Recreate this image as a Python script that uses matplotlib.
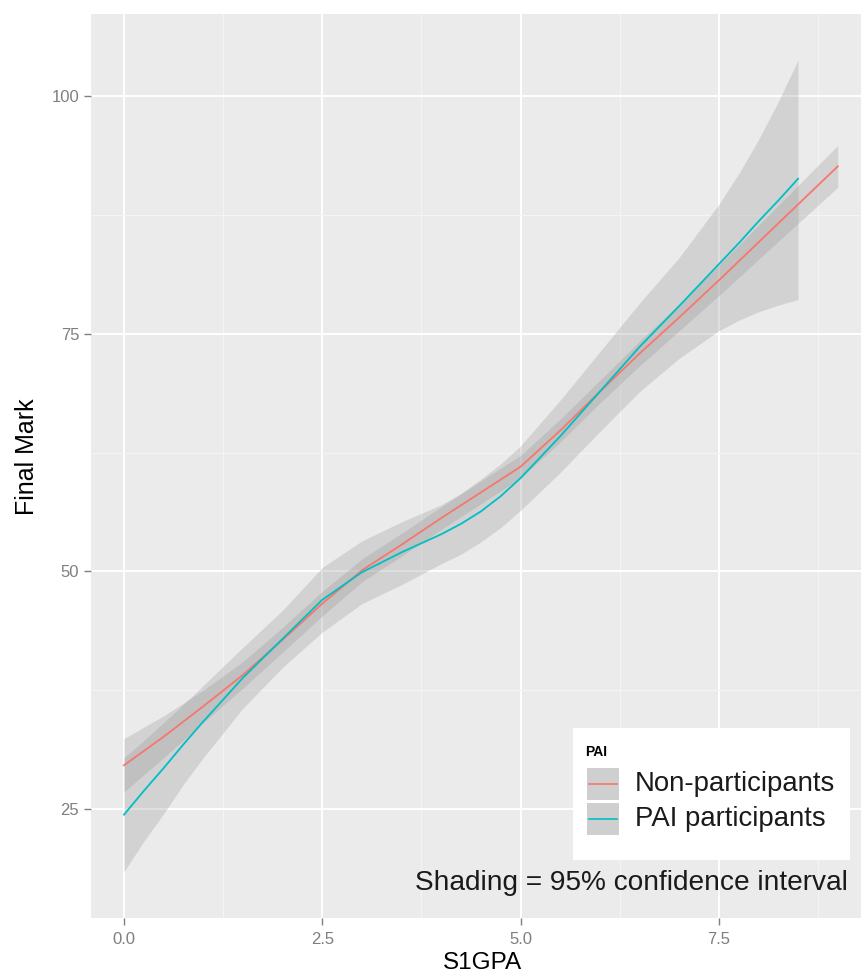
import matplotlib
matplotlib.use("Agg")
import matplotlib.pyplot as plt
from matplotlib.patches import Rectangle
from matplotlib.lines import Line2D
import numpy as np

plt.rcParams['font.family'] = ['Liberation Sans', 'DejaVu Sans']

# ---- data ----
x_non = [0.0, 0.5, 1.0, 1.5, 2.0, 2.5, 3.0, 3.5, 4.0, 4.5, 5.0, 5.5, 6.0, 6.5, 7.0, 7.5, 8.0, 8.5, 9.0]
y_non = [29.6, 32.6, 35.8, 39.1, 42.8, 46.6, 50.1, 52.8, 55.6, 58.3, 61.0, 64.8, 68.9, 72.9, 76.7, 80.6, 84.6, 88.6, 92.6]
lo_non = [26.8, 30.4, 34.1, 37.7, 41.5, 45.3, 48.9, 51.6, 54.4, 57.1, 59.8, 63.6, 67.7, 71.6, 75.3, 79.0, 82.8, 86.6, 90.4]
hi_non = [32.4, 34.8, 37.5, 40.5, 44.1, 47.9, 51.3, 54.0, 56.8, 59.5, 62.2, 66.0, 70.1, 74.2, 78.1, 82.2, 86.4, 90.6, 94.8]

x_pai = [0.0, 0.25, 0.5, 0.75, 1.0, 1.5, 2.0, 2.5, 3.0, 3.5, 4.0, 4.25, 4.5, 4.75, 5.0, 5.5, 6.0, 6.5, 7.0, 7.5, 7.75, 8.0, 8.25, 8.5]
y_pai = [24.4, 26.9, 29.3, 31.8, 34.2, 38.8, 42.9, 47.0, 49.9, 52.0, 53.9, 55.0, 56.3, 57.9, 59.8, 64.2, 68.9, 73.6, 77.9, 82.3, 84.5, 86.8, 89.0, 91.3]
lo_pai = [18.4, 21.6, 24.5, 27.6, 30.4, 35.6, 39.9, 43.6, 46.6, 48.6, 50.8, 51.8, 53.1, 54.6, 56.4, 60.4, 64.7, 68.9, 72.4, 75.3, 76.4, 77.3, 78.0, 78.6]
hi_pai = [30.4, 32.2, 34.1, 36.0, 38.0, 42.0, 45.9, 50.4, 53.2, 55.2, 57.0, 58.2, 59.7, 61.3, 63.2, 68.0, 73.1, 78.2, 83.0, 88.6, 91.8, 95.4, 99.4, 103.8]

groups = ["Non-participants", "PAI participants"]
colors = ["#F8766D", "#00BFC4"]
legend_title = "PAI"
x_ticks = [0.0, 2.5, 5.0, 7.5]
x_ticklabels = ["0.0", "2.5", "5.0", "7.5"]
y_ticks = [25, 50, 75, 100]
y_ticklabels = ["25", "50", "75", "100"]
x_minor = [1.25, 3.75, 6.25, 8.75]
y_minor = [37.5, 62.5, 87.5]
note = "Shading = 95% confidence interval"

W, H = 861, 974
fig = plt.figure(figsize=(W / 100, H / 100), dpi=100)
fig.patch.set_facecolor("white")

def fx(px):
    return px / W

def fy(py):
    return 1 - py / H

ax = fig.add_axes([fx(91), fy(918), fx(873) - fx(91), fy(14) - fy(918)])
ax.set_facecolor("#EBEBEB")
ax.set_xlim(-0.416, 9.445)
ax.set_ylim(13.53, 108.63)
for s in ax.spines.values():
    s.set_visible(False)

ax.set_xticks(x_ticks)
ax.set_xticklabels(x_ticklabels)
ax.set_yticks(y_ticks)
ax.set_yticklabels(y_ticklabels)
ax.set_xticks(x_minor, minor=True)
ax.set_yticks(y_minor, minor=True)
ax.tick_params(which="major", axis="both", colors="#7F7F7F", length=5, width=1,
               labelsize=12, labelcolor="#7F7F7F")
ax.tick_params(axis="x", pad=5)
ax.tick_params(axis="y", pad=3.5)
ax.tick_params(which="minor", length=0)
ax.grid(which="major", color="white", linewidth=1.4)
ax.grid(which="minor", color="#F4F4F4", linewidth=0.8)
ax.set_axisbelow(True)

band_alpha = 0.3
ax.fill_between(x_non, lo_non, hi_non, color="#999999", alpha=band_alpha, linewidth=0, zorder=2)
ax.fill_between(x_pai, lo_pai, hi_pai, color="#999999", alpha=band_alpha, linewidth=0, zorder=2)
ax.plot(x_non, y_non, color=colors[0], linewidth=1.3, zorder=3, solid_joinstyle="round")
ax.plot(x_pai, y_pai, color=colors[1], linewidth=1.3, zorder=3, solid_joinstyle="round")

ax.set_xlabel("S1GPA", fontsize=17.5, color="black", labelpad=4)
ax.set_ylabel("Final Mark", fontsize=18, color="black", labelpad=8)
ax.yaxis.set_label_coords(-0.067, 0.51)

# ---- legend (manual, in figure pixel coords) ----
fig.patches.append(Rectangle((fx(573), fy(860)), fx(850) - fx(573), fy(728) - fy(860),
                             transform=fig.transFigure, facecolor="white", edgecolor="none", zorder=5))
fig.text(fx(585), fy(752), legend_title, fontsize=10, fontweight="bold", ha="left", va="center", zorder=6)
rows = [784, 819]
for lab, col, cy in zip(groups, colors, rows):
    fig.patches.append(Rectangle((fx(587), fy(cy + 16)), fx(619) - fx(587), fy(cy - 16) - fy(cy + 16),
                                 transform=fig.transFigure, facecolor="#CFCFCF", edgecolor="none", zorder=6))
    fig.lines.append(Line2D([fx(589), fx(617)], [fy(cy), fy(cy)], transform=fig.transFigure,
                            color=col, linewidth=1.2, zorder=7))
    fig.text(fx(635), fy(cy), lab, fontsize=19.8, ha="left", va="center", color="#1A1A1A", zorder=7)

fig.text(fx(848), fy(883), note, fontsize=20.2, ha="right", va="center", color="#1A1A1A", zorder=6)

fig.savefig("out.png", dpi=100, facecolor="white")
